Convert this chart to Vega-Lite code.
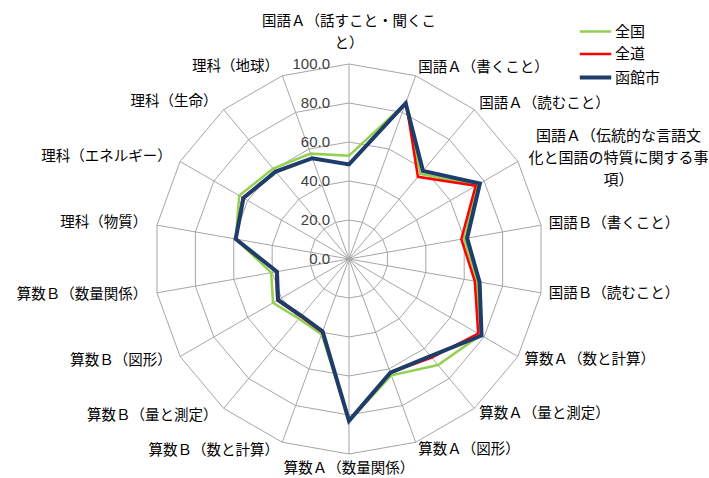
{
  "$schema": "https://vega.github.io/schema/vega-lite/v6.json",
  "width": 709,
  "height": 478,
  "autosize": {"type": "fit", "contains": "padding"},
  "padding": 0,
  "background": "white",
  "config": {"view": {"stroke": null}, "text": {"font": "Noto Sans CJK JP"}},
  "datasets": {
    "cats": [
      {"subject": "国語Ａ（話すこと・聞くこと）", "label": "国語Ａ（話すこと・聞くこ\nと）"},
      {"subject": "国語Ａ（書くこと）", "label": "国語Ａ（書くこと）"},
      {"subject": "国語Ａ（読むこと）", "label": "国語Ａ（読むこと）"},
      {"subject": "国語Ａ（伝統的な言語文化と国語の特質に関する事項）", "label": "国語Ａ（伝統的な言語文\n化と国語の特質に関する事\n項）"},
      {"subject": "国語Ｂ（書くこと）", "label": "国語Ｂ（書くこと）"},
      {"subject": "国語Ｂ（読むこと）", "label": "国語Ｂ（読むこと）"},
      {"subject": "算数Ａ（数と計算）", "label": "算数Ａ（数と計算）"},
      {"subject": "算数Ａ（量と測定）", "label": "算数Ａ（量と測定）"},
      {"subject": "算数Ａ（図形）", "label": "算数Ａ（図形）"},
      {"subject": "算数Ａ（数量関係）", "label": "算数Ａ（数量関係）"},
      {"subject": "算数Ｂ（数と計算）", "label": "算数Ｂ（数と計算）"},
      {"subject": "算数Ｂ（量と測定）", "label": "算数Ｂ（量と測定）"},
      {"subject": "算数Ｂ（図形）", "label": "算数Ｂ（図形）"},
      {"subject": "算数Ｂ（数量関係）", "label": "算数Ｂ（数量関係）"},
      {"subject": "理科（物質）", "label": "理科（物質）"},
      {"subject": "理科（エネルギー）", "label": "理科（エネルギー）"},
      {"subject": "理科（生命）", "label": "理科（生命）"},
      {"subject": "理科（地球）", "label": "理科（地球）"}
    ],
    "scores": [
      {"subject": "国語Ａ（話すこと・聞くこと）", "series": "全国", "value": 53},
      {"subject": "国語Ａ（書くこと）", "series": "全国", "value": 85},
      {"subject": "国語Ａ（読むこと）", "series": "全国", "value": 57},
      {"subject": "国語Ａ（伝統的な言語文化と国語の特質に関する事項）", "series": "全国", "value": 76},
      {"subject": "国語Ｂ（書くこと）", "series": "全国", "value": 60},
      {"subject": "国語Ｂ（読むこと）", "series": "全国", "value": 66.5},
      {"subject": "算数Ａ（数と計算）", "series": "全国", "value": 78},
      {"subject": "算数Ａ（量と測定）", "series": "全国", "value": 71},
      {"subject": "算数Ａ（図形）", "series": "全国", "value": 63.5},
      {"subject": "算数Ａ（数量関係）", "series": "全国", "value": 83},
      {"subject": "算数Ｂ（数と計算）", "series": "全国", "value": 41},
      {"subject": "算数Ｂ（量と測定）", "series": "全国", "value": 40},
      {"subject": "算数Ｂ（図形）", "series": "全国", "value": 45},
      {"subject": "算数Ｂ（数量関係）", "series": "全国", "value": 40.5},
      {"subject": "理科（物質）", "series": "全国", "value": 59},
      {"subject": "理科（エネルギー）", "series": "全国", "value": 65},
      {"subject": "理科（生命）", "series": "全国", "value": 60.5},
      {"subject": "理科（地球）", "series": "全国", "value": 57.5},
      {"subject": "国語Ａ（話すこと・聞くこと）", "series": "全道", "value": 48.5},
      {"subject": "国語Ａ（書くこと）", "series": "全道", "value": 85.5},
      {"subject": "国語Ａ（読むこと）", "series": "全道", "value": 55},
      {"subject": "国語Ａ（伝統的な言語文化と国語の特質に関する事項）", "series": "全道", "value": 75},
      {"subject": "国語Ｂ（書くこと）", "series": "全道", "value": 58.5},
      {"subject": "国語Ｂ（読むこと）", "series": "全道", "value": 65.5},
      {"subject": "算数Ａ（数と計算）", "series": "全道", "value": 76.5},
      {"subject": "算数Ａ（量と測定）", "series": "全道", "value": 66},
      {"subject": "算数Ａ（図形）", "series": "全道", "value": 62},
      {"subject": "算数Ａ（数量関係）", "series": "全道", "value": 83},
      {"subject": "算数Ｂ（数と計算）", "series": "全道", "value": 40},
      {"subject": "算数Ｂ（量と測定）", "series": "全道", "value": 38.5},
      {"subject": "算数Ｂ（図形）", "series": "全道", "value": 42.5},
      {"subject": "算数Ｂ（数量関係）", "series": "全道", "value": 38},
      {"subject": "理科（物質）", "series": "全道", "value": 59},
      {"subject": "理科（エネルギー）", "series": "全道", "value": 63},
      {"subject": "理科（生命）", "series": "全道", "value": 58.5},
      {"subject": "理科（地球）", "series": "全道", "value": 55},
      {"subject": "国語Ａ（話すこと・聞くこと）", "series": "函館市", "value": 48.5},
      {"subject": "国語Ａ（書くこと）", "series": "函館市", "value": 85},
      {"subject": "国語Ａ（読むこと）", "series": "函館市", "value": 59},
      {"subject": "国語Ａ（伝統的な言語文化と国語の特質に関する事項）", "series": "函館市", "value": 77.5},
      {"subject": "国語Ｂ（書くこと）", "series": "函館市", "value": 61.5},
      {"subject": "国語Ｂ（読むこと）", "series": "函館市", "value": 68},
      {"subject": "算数Ａ（数と計算）", "series": "函館市", "value": 78.5},
      {"subject": "算数Ａ（量と測定）", "series": "函館市", "value": 65},
      {"subject": "算数Ａ（図形）", "series": "函館市", "value": 62},
      {"subject": "算数Ａ（数量関係）", "series": "函館市", "value": 83},
      {"subject": "算数Ｂ（数と計算）", "series": "函館市", "value": 39.5},
      {"subject": "算数Ｂ（量と測定）", "series": "函館市", "value": 38},
      {"subject": "算数Ｂ（図形）", "series": "函館市", "value": 42},
      {"subject": "算数Ｂ（数量関係）", "series": "函館市", "value": 37.5},
      {"subject": "理科（物質）", "series": "函館市", "value": 59},
      {"subject": "理科（エネルギー）", "series": "函館市", "value": 62.5},
      {"subject": "理科（生命）", "series": "函館市", "value": 58.5},
      {"subject": "理科（地球）", "series": "函館市", "value": 55}
    ]
  },
  "layer": [
    {
      "data": {"name": "cats"},
      "transform": [
        {"window": [{"op": "row_number", "as": "idx"}]},
        {"calculate": "(datum.idx - 1) * PI / 9", "as": "ang"},
        {"calculate": "[20, 40, 60, 80, 100]", "as": "ring"},
        {"flatten": ["ring"]},
        {"calculate": "datum.ring * sin(datum.ang)", "as": "x"},
        {"calculate": "datum.ring * cos(datum.ang)", "as": "y"}
      ],
      "mark": {"type": "line", "interpolate": "linear-closed", "stroke": "#a6a6a6", "strokeWidth": 1},
      "encoding": {
        "x": {"field": "x", "type": "quantitative", "scale": {"domain": [-178.97, 184.62], "nice": false, "zero": false}, "axis": null},
        "y": {"field": "y", "type": "quantitative", "scale": {"domain": [-112.31, 132.82], "nice": false, "zero": false}, "axis": null},
        "detail": {"field": "ring", "type": "nominal"},
        "order": {"field": "idx", "type": "quantitative"}
      }
    },
    {
      "data": {"name": "cats"},
      "transform": [
        {"window": [{"op": "row_number", "as": "idx"}]},
        {"calculate": "(datum.idx - 1) * PI / 9", "as": "ang"},
        {"calculate": "100 * sin(datum.ang)", "as": "x"},
        {"calculate": "100 * cos(datum.ang)", "as": "y"}
      ],
      "mark": {"type": "rule", "stroke": "#a6a6a6", "strokeWidth": 1},
      "encoding": {
        "x": {"field": "x", "type": "quantitative", "scale": {"domain": [-178.97, 184.62], "nice": false, "zero": false}, "axis": null},
        "y": {"field": "y", "type": "quantitative", "scale": {"domain": [-112.31, 132.82], "nice": false, "zero": false}, "axis": null},
        "x2": {"datum": 0},
        "y2": {"datum": 0}
      }
    },
    {
      "data": {"values": [{"t": 0}, {"t": 20}, {"t": 40}, {"t": 60}, {"t": 80}, {"t": 100}]},
      "mark": {"type": "text", "align": "right", "baseline": "middle", "dx": -19, "font": "Liberation Sans", "fontSize": 15, "color": "#404040"},
      "encoding": {
        "x": {"datum": 0, "type": "quantitative", "scale": {"domain": [-178.97, 184.62], "nice": false, "zero": false}, "axis": null},
        "y": {"field": "t", "type": "quantitative", "scale": {"domain": [-112.31, 132.82], "nice": false, "zero": false}, "axis": null},
        "text": {"field": "t", "type": "quantitative", "format": ".1f"}
      }
    },
    {
      "data": {"name": "scores"},
      "transform": [
        {"window": [{"op": "row_number", "as": "idx"}], "groupby": ["series"]},
        {"filter": "datum.series == '全国'"},
        {"calculate": "(datum.idx - 1) * PI / 9", "as": "ang"},
        {"calculate": "datum.value * sin(datum.ang)", "as": "x"},
        {"calculate": "datum.value * cos(datum.ang)", "as": "y"}
      ],
      "mark": {"type": "line", "interpolate": "linear-closed", "strokeJoin": "miter", "strokeWidth": 2.5},
      "encoding": {
        "x": {"field": "x", "type": "quantitative", "scale": {"domain": [-178.97, 184.62], "nice": false, "zero": false}, "axis": null},
        "y": {"field": "y", "type": "quantitative", "scale": {"domain": [-112.31, 132.82], "nice": false, "zero": false}, "axis": null},
        "order": {"field": "idx", "type": "quantitative"},
        "color": {
          "field": "series", "type": "nominal",
          "scale": {"domain": ["全国", "全道", "函館市"], "range": ["#92d050", "#ff0000", "#1f3d6b"]},
          "legend": {
            "orient": "none", "legendX": 588, "legendY": 24, "title": null,
            "symbolType": "M-1.5,0H1.5", "symbolSize": 440, "symbolStrokeWidth": 2.5,
            "labelFontSize": 15, "labelFont": "Noto Sans CJK JP", "labelColor": "#000000",
            "rowPadding": 6.5, "labelOffset": 12,
            "encode": {"symbols": {"update": {"strokeWidth": {"signal": "datum.value === '函館市' ? 4 : 2.5"}}}}
          }
        }
      }
    },
    {
      "data": {"name": "scores"},
      "transform": [
        {"window": [{"op": "row_number", "as": "idx"}], "groupby": ["series"]},
        {"filter": "datum.series == '全道'"},
        {"calculate": "(datum.idx - 1) * PI / 9", "as": "ang"},
        {"calculate": "datum.value * sin(datum.ang)", "as": "x"},
        {"calculate": "datum.value * cos(datum.ang)", "as": "y"}
      ],
      "mark": {"type": "line", "interpolate": "linear-closed", "strokeJoin": "miter", "strokeWidth": 2.5},
      "encoding": {
        "x": {"field": "x", "type": "quantitative", "scale": {"domain": [-178.97, 184.62], "nice": false, "zero": false}, "axis": null},
        "y": {"field": "y", "type": "quantitative", "scale": {"domain": [-112.31, 132.82], "nice": false, "zero": false}, "axis": null},
        "order": {"field": "idx", "type": "quantitative"},
        "color": {"field": "series", "type": "nominal"}
      }
    },
    {
      "data": {"name": "scores"},
      "transform": [
        {"window": [{"op": "row_number", "as": "idx"}], "groupby": ["series"]},
        {"filter": "datum.series == '函館市'"},
        {"calculate": "(datum.idx - 1) * PI / 9", "as": "ang"},
        {"calculate": "datum.value * sin(datum.ang)", "as": "x"},
        {"calculate": "datum.value * cos(datum.ang)", "as": "y"}
      ],
      "mark": {"type": "line", "interpolate": "linear-closed", "strokeJoin": "miter", "strokeWidth": 4},
      "encoding": {
        "x": {"field": "x", "type": "quantitative", "scale": {"domain": [-178.97, 184.62], "nice": false, "zero": false}, "axis": null},
        "y": {"field": "y", "type": "quantitative", "scale": {"domain": [-112.31, 132.82], "nice": false, "zero": false}, "axis": null},
        "order": {"field": "idx", "type": "quantitative"},
        "color": {"field": "series", "type": "nominal"}
      }
    },
    {
      "data": {"name": "cats"},
      "transform": [
        {"window": [{"op": "row_number", "as": "idx"}]},
        {"filter": "datum.idx >= 2 && datum.idx <= 9 && datum.idx != 4"},
        {"calculate": "(datum.idx - 1) * PI / 9", "as": "ang"},
        {"calculate": "104 * sin(datum.ang)", "as": "x"},
        {"calculate": "104 * cos(datum.ang)", "as": "y"}
      ],
      "mark": {"type": "text", "align": "left", "baseline": "middle", "fontSize": 14.5, "color": "#000000"},
      "encoding": {
        "x": {"field": "x", "type": "quantitative", "scale": {"domain": [-178.97, 184.62], "nice": false, "zero": false}, "axis": null},
        "y": {"field": "y", "type": "quantitative", "scale": {"domain": [-112.31, 132.82], "nice": false, "zero": false}, "axis": null},
        "text": {"field": "label"}
      }
    },
    {
      "data": {"name": "cats"},
      "transform": [
        {"window": [{"op": "row_number", "as": "idx"}]},
        {"filter": "datum.idx >= 11"},
        {"calculate": "(datum.idx - 1) * PI / 9", "as": "ang"},
        {"calculate": "105 * sin(datum.ang)", "as": "x"},
        {"calculate": "105 * cos(datum.ang)", "as": "y"}
      ],
      "mark": {"type": "text", "align": "right", "baseline": "middle", "fontSize": 14.5, "color": "#000000"},
      "encoding": {
        "x": {"field": "x", "type": "quantitative", "scale": {"domain": [-178.97, 184.62], "nice": false, "zero": false}, "axis": null},
        "y": {"field": "y", "type": "quantitative", "scale": {"domain": [-112.31, 132.82], "nice": false, "zero": false}, "axis": null},
        "text": {"field": "label"}
      }
    },
    {
      "data": {"name": "cats"},
      "transform": [
        {"window": [{"op": "row_number", "as": "idx"}]},
        {"filter": "datum.idx == 1"},
        {"calculate": "(datum.idx - 1) * PI / 9", "as": "ang"},
        {"calculate": "104 * sin(datum.ang)", "as": "x"},
        {"calculate": "104 * cos(datum.ang)", "as": "y"}
      ],
      "mark": {"type": "text", "align": "center", "baseline": "bottom", "dy": -27, "lineBreak": "\n", "lineHeight": 22, "fontSize": 14.5, "color": "#000000"},
      "encoding": {
        "x": {"field": "x", "type": "quantitative", "scale": {"domain": [-178.97, 184.62], "nice": false, "zero": false}, "axis": null},
        "y": {"field": "y", "type": "quantitative", "scale": {"domain": [-112.31, 132.82], "nice": false, "zero": false}, "axis": null},
        "text": {"field": "label"}
      }
    },
    {
      "data": {"name": "cats"},
      "transform": [
        {"window": [{"op": "row_number", "as": "idx"}]},
        {"filter": "datum.idx == 10"},
        {"calculate": "(datum.idx - 1) * PI / 9", "as": "ang"},
        {"calculate": "104 * sin(datum.ang)", "as": "x"},
        {"calculate": "104 * cos(datum.ang)", "as": "y"}
      ],
      "mark": {"type": "text", "align": "center", "baseline": "top", "fontSize": 14.5, "color": "#000000"},
      "encoding": {
        "x": {"field": "x", "type": "quantitative", "scale": {"domain": [-178.97, 184.62], "nice": false, "zero": false}, "axis": null},
        "y": {"field": "y", "type": "quantitative", "scale": {"domain": [-112.31, 132.82], "nice": false, "zero": false}, "axis": null},
        "text": {"field": "label"}
      }
    },
    {
      "data": {"name": "cats"},
      "transform": [
        {"window": [{"op": "row_number", "as": "idx"}]},
        {"filter": "datum.idx == 4"},
        {"calculate": "(datum.idx - 1) * PI / 9", "as": "ang"},
        {"calculate": "104 * sin(datum.ang)", "as": "x"},
        {"calculate": "104 * cos(datum.ang)", "as": "y"}
      ],
      "mark": {"type": "text", "align": "center", "baseline": "middle", "dx": 94, "dy": -22, "lineBreak": "\n", "lineHeight": 22, "fontSize": 15, "color": "#000000"},
      "encoding": {
        "x": {"field": "x", "type": "quantitative", "scale": {"domain": [-178.97, 184.62], "nice": false, "zero": false}, "axis": null},
        "y": {"field": "y", "type": "quantitative", "scale": {"domain": [-112.31, 132.82], "nice": false, "zero": false}, "axis": null},
        "text": {"field": "label"}
      }
    }
  ]
}
